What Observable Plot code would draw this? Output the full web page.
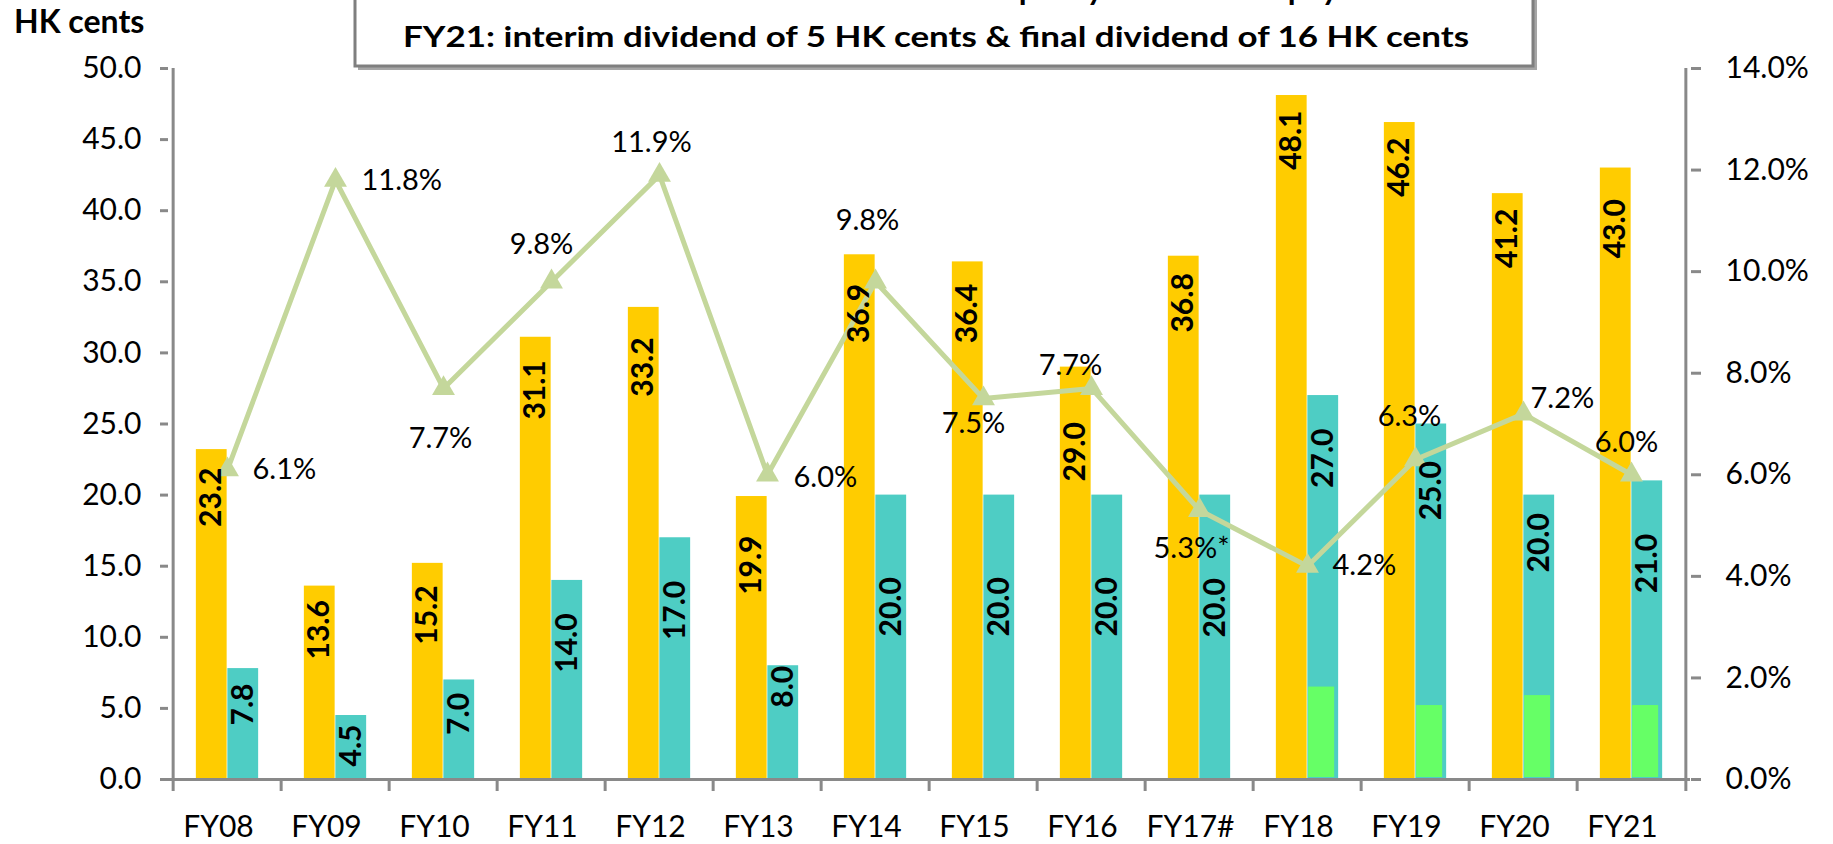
<!DOCTYPE html>
<html>
<head>
<meta charset="utf-8">
<script src="https://cdn.jsdelivr.net/npm/d3@7"></script>
<script src="https://cdn.jsdelivr.net/npm/@observablehq/plot@0.6"></script>
<style>
  html, body { margin: 0; padding: 0; background: #ffffff; }
  #wrap { position: relative; width: 1833px; height: 844px; overflow: hidden; background: #fff; }
  #wrap > svg.overlay { position: absolute; left: 0; top: 0; }
  #chart { position: absolute; left: 0; top: 0; }
</style>
</head>
<body>
<div id="wrap">
  <div id="chart"></div>
  <svg class="overlay" width="1833" height="100" font-family="Lato, 'Open Sans', sans-serif">
    <text x="14" y="33" font-size="32" font-weight="bold" fill="#000">HK cents</text>
    <rect x="358" y="-20" width="1179" height="90" fill="#a6a6a6"/>
    <rect x="355" y="-20" width="1178" height="86" fill="#ffffff" stroke="#7f7f7f" stroke-width="3"/>
    <text id="t1" x="466" y="0" font-size="29" font-weight="bold" fill="#000" textLength="994" lengthAdjust="spacingAndGlyphs">Continue to maintain a stable dividend policy of over 50% payout ratio</text>
    <text id="t2" x="403" y="47" font-size="29" font-weight="bold" fill="#000" textLength="1066" lengthAdjust="spacingAndGlyphs">FY21: interim dividend of 5 HK cents &amp; final dividend of 16 HK cents</text>
  </svg>
</div>
<script>
// ---- data ----
const categories = ["FY08","FY09","FY10","FY11","FY12","FY13","FY14","FY15","FY16","FY17#","FY18","FY19","FY20","FY21"];
const eps = [23.2, 13.6, 15.2, 31.1, 33.2, 19.9, 36.9, 36.4, 29.0, 36.8, 48.1, 46.2, 41.2, 43.0];
const dps = [7.8, 4.5, 7.0, 14.0, 17.0, 8.0, 20.0, 20.0, 20.0, 20.0, 27.0, 25.0, 20.0, 21.0];
const specialPart = [null, null, null, null, null, null, null, null, null, null, 6.5, 5.2, 5.9, 5.2];
const yieldPct = [6.1, 11.8, 7.7, 9.8, 11.9, 6.0, 9.8, 7.5, 7.7, 5.3, 4.2, 6.3, 7.2, 6.0];
const yieldLabels = ["6.1%","11.8%","7.7%","9.8%","11.9%","6.0%","9.8%","7.5%","7.7%","5.3%*","4.2%","6.3%","7.2%","6.0%"];
const leftTicks = [0, 5, 10, 15, 20, 25, 30, 35, 40, 45, 50];
const rightTicks = [0, 2, 4, 6, 8, 10, 12, 14];

// ---- label placement (layout only) ----
const epsLabelDrop = [18, 14, 22, 23, 30, 39, 29, 22, 55, 17, 15, 15, 15, 31];
const dpsLabelDrop = [15, 9, 13, 33, 43, 0, 82, 82, 82, 83, 33, 37, 18, 53];
const yieldNudge = [
  [25, 0, "start"], [26, 0, "start"], [-3, 50, "middle"], [-10, -37, "middle"],
  [-8, -32, "middle"], [26, 3, "start"], [-8, -61, "middle"], [-10, 25, "middle"],
  [-21, -23, "middle"], [-8, 38, "middle"], [25, 0, "start"], [-6, -43, "middle"],
  [7, -15, "start"], [-5, -32, "middle"]
];

const data = categories.map((cat, i) => ({
  cat, eps: eps[i], dps: dps[i], special: specialPart[i],
  yld: yieldPct[i], ylabel: yieldLabels[i]
}));

const W = 1833, H = 844, ML = 168, MR = 143, MT = 68, MB = 65;
const step = (W - ML - MR) / categories.length;
const half = step / 2;
const barW = 31.5;
const gray = "#898989";
const yellow = "#FFCC00", teal = "#4ECDC4", green = "#66FF66", lineCol = "#C4D79B";
const toLeft = p => p * 50 / 14;

const marks = [
  Plot.barY(data, {x: "cat", y: "eps", fill: yellow, insetLeft: half - barW, insetRight: half}),
  Plot.barY(data, {x: "cat", y: "dps", fill: teal, insetLeft: half, insetRight: half - barW}),
  Plot.barY(data.filter(d => d.special != null), {x: "cat", y: "special", fill: green,
    insetLeft: half + 0.8, insetRight: half - barW + 4, insetBottom: 2}),

  Plot.axisY({anchor: "left", ticks: leftTicks, tickFormat: d => d.toFixed(1), tickSize: 8, tickPadding: 19,
    fontSize: 30, stroke: gray, strokeWidth: 3, fill: "#000", label: null}),
  Plot.axisY({anchor: "right", ticks: rightTicks.map(toLeft), tickFormat: d => (d * 14 / 50).toFixed(1) + "%",
    tickSize: 10, tickPadding: 25, fontSize: 30, stroke: gray, strokeWidth: 3, fill: "#000", label: null}),
  Plot.axisX({tickSize: 12, tickFormat: () => "", dx: -half, stroke: gray, strokeWidth: 3, label: null}),
  Plot.axisX({ticks: [categories[categories.length - 1]], tickSize: 12, tickFormat: () => "", dx: half,
    stroke: gray, strokeWidth: 3, label: null}),
  Plot.axisX({tickSize: 0, tickPadding: 36, fontSize: 30, fill: "#000", dx: -9, label: null}),
  Plot.ruleY([0], {stroke: gray, strokeWidth: 3}),
  Plot.ruleX([categories[0]], {dx: -half, stroke: gray, strokeWidth: 3}),
  Plot.ruleX([categories[categories.length - 1]], {dx: half, stroke: gray, strokeWidth: 3}),
];

// yield line
marks.push(Plot.line(data, {x: "cat", y: d => toLeft(d.yld), stroke: lineCol, strokeWidth: 5}));
marks.push(Plot.dot(data, {x: "cat", y: d => toLeft(d.yld), symbol: "triangle", r: 8.5, fill: lineCol, stroke: "none"}));

// bar value labels (rotated, inside end), drawn above the line
data.forEach((d, i) => {
  marks.push(Plot.text([d], {x: "cat", y: "eps", text: e => e.eps.toFixed(1), rotate: -90, textAnchor: "end",
    dx: -barW / 2, dy: epsLabelDrop[i], fontSize: 30, fontWeight: "bold", fill: "#000"}));
  marks.push(Plot.text([d], {x: "cat", y: "dps", text: e => e.dps.toFixed(1), rotate: -90, textAnchor: "end",
    dx: barW / 2, dy: dpsLabelDrop[i], fontSize: 30, fontWeight: "bold", fill: "#000"}));
});

// yield labels
data.forEach((d, i) => {
  const [dx, dy, anchor] = yieldNudge[i];
  marks.push(Plot.text([d], {x: "cat", y: e => toLeft(e.yld), text: "ylabel", dx, dy, textAnchor: anchor,
    fontSize: 29, fill: "#000"}));
});

const chart = Plot.plot({
  width: W, height: H,
  marginLeft: ML, marginRight: MR, marginTop: MT, marginBottom: MB,
  style: {fontFamily: "Lato, 'Open Sans', sans-serif", background: "transparent", overflow: "visible"},
  x: {type: "band", domain: categories, padding: 0},
  y: {domain: [0, 50]},
  marks
});
document.getElementById("chart").appendChild(chart);
</script>
</body>
</html>
